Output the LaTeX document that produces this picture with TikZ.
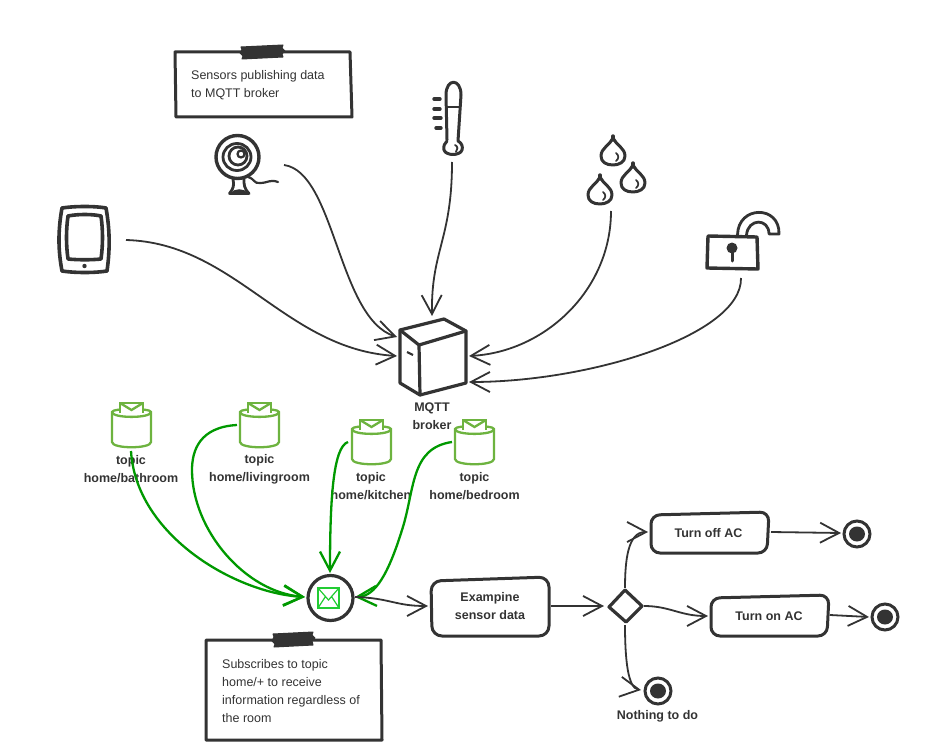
\documentclass[tikz,border=0pt]{standalone}
\usepackage{fontspec}
\setmainfont{Liberation Sans}
\usetikzlibrary{arrows.meta}
\definecolor{ink}{HTML}{333333}
\definecolor{grn}{HTML}{009900}
\definecolor{tgrn}{HTML}{6DB33F}
\definecolor{env}{HTML}{22CC33}
\tikzset{
  x=1pt,y=-1pt,
  every node/.style={font=\fontsize{12.5}{18}\selectfont,text=ink,inner sep=0pt},
  lbl/.style={font=\fontsize{12.5}{18}\selectfont\bfseries,align=center},
  notetext/.style={align=left,anchor=north west},
  icon/.style={draw=ink,line width=3.2pt,line join=round,line cap=round},
  conn/.style={draw=ink,line width=1.8pt,-{Straight Barb[length=19pt,width=20pt,sep=0pt]}},
  gconn/.style={draw=grn,line width=2.3pt,-{Straight Barb[length=19pt,width=20pt,sep=0pt]}},
  tape/.style={fill=ink,draw=ink,line width=1pt,line join=round},
  drop/.pic={
    \draw[icon,line width=3pt] (0,-16) .. controls (3,-9) and (12,-6) .. (12,2)
      .. controls (12,8) and (6,11) .. (0,11) .. controls (-7,11) and (-12,8) .. (-12,2)
      .. controls (-12,-6) and (-3,-9) .. (0,-16) -- cycle;
    \draw[ink,line width=3.4pt,line cap=round] (0,-18) -- (0,-14);
    \draw[ink,line width=1.7pt,line cap=round] (3,-1) .. controls (6,1) and (6,5) .. (3,7);
  },
  finalstate/.pic={
    \draw[ink,line width=3pt,fill=white] (0,0) circle (13);
    \fill[ink] (0,0) ellipse (8 and 7.5);
  },
  topicpic/.pic={
    \draw[tgrn,line width=2.3pt,fill=white] (0,3) .. controls (0,-1) and (39,-1) .. (39,3) -- (39,33)
       .. controls (39,40) and (0,40) .. (0,33) -- cycle;
    \draw[tgrn,line width=2.3pt] (0,3) .. controls (0,9.5) and (39,9.5) .. (39,3);
    \draw[tgrn,line width=2.3pt,fill=white] (8,4) -- (8,-6) -- (31,-6) -- (31,4);
    \draw[tgrn,line width=2.3pt] (8,-6) -- (19.5,1) -- (31,-6);
  },
}
\begin{document}
\begin{tikzpicture}
\useasboundingbox (0,0) rectangle (950,746);

% ---- notes
\draw[icon,line width=3pt] (175,52) -- (350,52) -- (352,117) -- (176,117) -- cycle;
\draw[tape] (241,47) -- (283,45) -- (282,48) -- (285,51) -- (282,54) -- (283,57) -- (242,59) -- (243,56) -- (240,53) -- (242,50) -- cycle;
\node[notetext] (note1) at (191,70.5) {Sensors publishing data\\to MQTT broker};

\draw[icon,line width=3pt] (206,640) -- (381,640) -- (382,740) -- (206,740) -- cycle;
\draw[tape] (273,634) -- (313,632) -- (312,635) -- (315,638) -- (312,641) -- (313,645) -- (274,647) -- (275,644) -- (272,641) -- (274,637) -- cycle;
\node[notetext] (note2) at (222,659) {Subscribes to topic\\home/+ to receive\\information regardless of\\the room};

% ---- tablet
\node (tablet) at (84.5,240) {};
\draw[icon,line width=3.6pt] (62,208) .. controls (75,206) and (95,206) .. (106,208) .. controls (110,230) and (110,250) .. (107,271)
   .. controls (95,273) and (75,273) .. (62,271) .. controls (58,250) and (58,230) .. (62,208) -- cycle;
\draw[icon,line width=3.6pt] (68,216) .. controls (78,214) and (92,214) .. (101,216) .. controls (103,230) and (103,245) .. (101,259)
   .. controls (92,260) and (78,260) .. (68,259) .. controls (66,245) and (66,230) .. (68,216) -- cycle;
\fill[ink] (84.5,266) circle (2.2);
\coordinate (tabletport) at (126,240);

% ---- camera
\node (camera) at (237,157) {};
\draw[icon,line width=3.4pt] (237.5,157) circle (21.5);
\draw[icon,line width=2.8pt] (237,157) ellipse (14 and 13.5);
\draw[icon,line width=2.8pt] (238,156) circle (9);
\draw[ink,line width=2.2pt] (241,154) circle (3.5);
\draw[icon,line width=2.8pt] (233,179) .. controls (234,185) and (234,188) .. (229.5,193.5) -- (249,193.5) .. controls (244,188) and (244,185) .. (244,179);
\fill[ink] (231,193) .. controls (234,188) and (244,188) .. (248,193) -- cycle;
\draw[ink,line width=2.2pt,line cap=round] (248,177) .. controls (255,179) and (254,184) .. (260,183) .. controls (268,183) and (270,179) .. (278,182);
\coordinate (cameraport) at (284,165);

% ---- thermometer
\node (thermo) at (453,120) {};
\draw[icon,line width=3pt] (447,140) -- (446,95) .. controls (446,78) and (461,78) .. (461,95) -- (458,141)
   .. controls (462,143) and (463,147) .. (462,150) .. controls (460,156) and (446,156) .. (444,150) .. controls (443,146) and (445,143) .. (447,141);
\draw[ink,line width=2.2pt] (446,107) -- (461,107);
\draw[ink,line width=1.8pt,line cap=round] (455,145) .. controls (458,146) and (458,150) .. (456,152);
\draw[icon,line width=3.4pt] (434,99) -- (440,99) (434,109) -- (440,109) (434,118) -- (441,118) (436,128) -- (441,128);
\coordinate (thermoport) at (452,162);

% ---- drops
\node (drops) at (616,170) {};
\pic at (613,154) {drop};
\pic at (633,181) {drop};
\pic at (600,193) {drop};
\coordinate (dropsport) at (611,211);

% ---- lock
\node (lock) at (733,245) {};
\draw[icon,line width=3.4pt] (708,236) -- (757,237) -- (758,269) -- (707,268) -- cycle;
\draw[icon,line width=2.8pt] (737.5,235) .. controls (738,205) and (780,205) .. (779,234) -- (769,234) .. controls (769,218) and (748,218) .. (746.5,235);
\fill[ink] (732,248) circle (5.5);
\draw[ink,line width=3pt,line cap=round] (732,250) -- (732,261);
\coordinate (lockport) at (741,278);

% ---- broker
\node (broker) at (433,357) {};
\draw[icon] (400,330) -- (444,319) -- (466,331) -- (466,383) -- (420,395) -- (400,383) -- cycle;
\draw[icon] (400,330) -- (419,345) -- (420,395);
\draw[icon] (419,345) -- (466,331);
\draw[ink,line width=2.2pt] (407,352) -- (413,355);
\node[lbl] (brokerlabel) at (432,416) {MQTT\\broker};
\coordinate (brokerA) at (397,337);
\coordinate (brokerB) at (397,356);
\coordinate (brokerC) at (432,316);
\coordinate (brokerD) at (469,356);
\coordinate (brokerE) at (469,382);

% ---- publish connectors
\draw[conn] (tabletport) .. controls (235,243) and (285,349) .. (brokerB);
\draw[conn] (cameraport) .. controls (335,172) and (338,318) .. (brokerA);
\draw[conn] (thermoport) .. controls (452,240) and (431,250) .. (brokerC);
\draw[conn] (dropsport) .. controls (611,290) and (545,352) .. (brokerD);
\draw[conn] (lockport) .. controls (742,335) and (590,382) .. (brokerE);

% ---- topics
\pic at (112,409) {topicpic};
\pic at (240,409) {topicpic};
\pic at (352,426) {topicpic};
\pic at (455,426) {topicpic};
\coordinate (t1port) at (131,451);
\coordinate (t2port) at (237,425);
\coordinate (t3port) at (348,442);
\coordinate (t4port) at (452,442);
\node[lbl] (t1label) at (131,469) {topic\\home/bathroom};
\node[lbl] (t2label) at (259.5,469) {topic\\home/livingroom};
\node[lbl] (t3label) at (371,486) {topic\\home/kitchen};
\node[lbl] (t4label) at (474.5,486) {topic\\home/bedroom};

% ---- subscriber
\node[draw=ink,line width=3.2pt,circle,minimum size=45pt] (sub) at (330.5,598) {};
\draw[env,line width=1.4pt] (318,588) rectangle (339,608);
\draw[env,line width=1.2pt] (318,588) -- (328.5,600) -- (339,588) (318,608) -- (325.5,596.5) (339,608) -- (331.5,596.5);
\coordinate (subW) at (305,597);
\coordinate (subN) at (330,573);
\coordinate (subE) at (355,597);

\draw[gconn] (t1port) .. controls (136,535) and (235,593) .. (subW);
\draw[gconn] (t2port) .. controls (200,427) and (192,450) .. (192,470) .. controls (192,530) and (245,592) .. (subW);
\draw[gconn] (t3port) .. controls (333,447) and (330,500) .. (subN);
\draw[gconn] (t4port) .. controls (410,448) and (415,490) .. (402,530) .. controls (388,575) and (375,596) .. (subE);

\coordinate (examW) at (428,606);
\draw[conn] (subE) .. controls (390,598) and (395,606) .. (examW);

% ---- activity boxes
\draw[icon,line width=3pt,rounded corners=10pt] (431,581) -- (549,577) -- (549,636) -- (432,636) -- cycle;
\node[lbl] (exam) at (490,606) {Exampine\\sensor data};
\coordinate (examE) at (551,606);

\draw[icon,line width=3pt,rounded corners=9pt] (651,515) -- (769,512) -- (767,553) -- (651,553) -- cycle;
\node[lbl] (off) at (708.5,533) {Turn off AC};
\coordinate (offW) at (648,532);
\coordinate (offE) at (771,532);

\draw[icon,line width=3pt,rounded corners=9pt] (711,598) -- (829,595) -- (827,636) -- (711,636) -- cycle;
\node[lbl] (on) at (769,616) {Turn on AC};
\coordinate (onW) at (708,616);
\coordinate (onE) at (830,615);

% ---- decision
\node (decision) at (625,606) {};
\draw[icon] (625,590) -- (642,606) -- (626,622) -- (609,607) -- cycle;
\coordinate (decW) at (604,606);
\coordinate (decN) at (625,588);
\coordinate (decE) at (644,606);
\coordinate (decS) at (625,625);

% ---- final states
\pic at (857,534) {finalstate};
\pic at (885,617) {finalstate};
\pic at (658,691) {finalstate};
\coordinate (end1) at (841,533);
\coordinate (end2) at (869,617);
\coordinate (end3) at (641,690);
\node[lbl] (nothing) at (657.5,716) {Nothing to do};

\draw[conn] (examE) -- (decW);
\draw[conn] (decN) .. controls (625,560) and (628,532) .. (offW);
\draw[conn] (decE) .. controls (670,606) and (680,616) .. (onW);
\draw[conn] (decS) .. controls (625,660) and (628,688) .. (end3);
\draw[conn] (offE) -- (end1);
\draw[conn] (onE) -- (end2);
\end{tikzpicture}
\end{document}
